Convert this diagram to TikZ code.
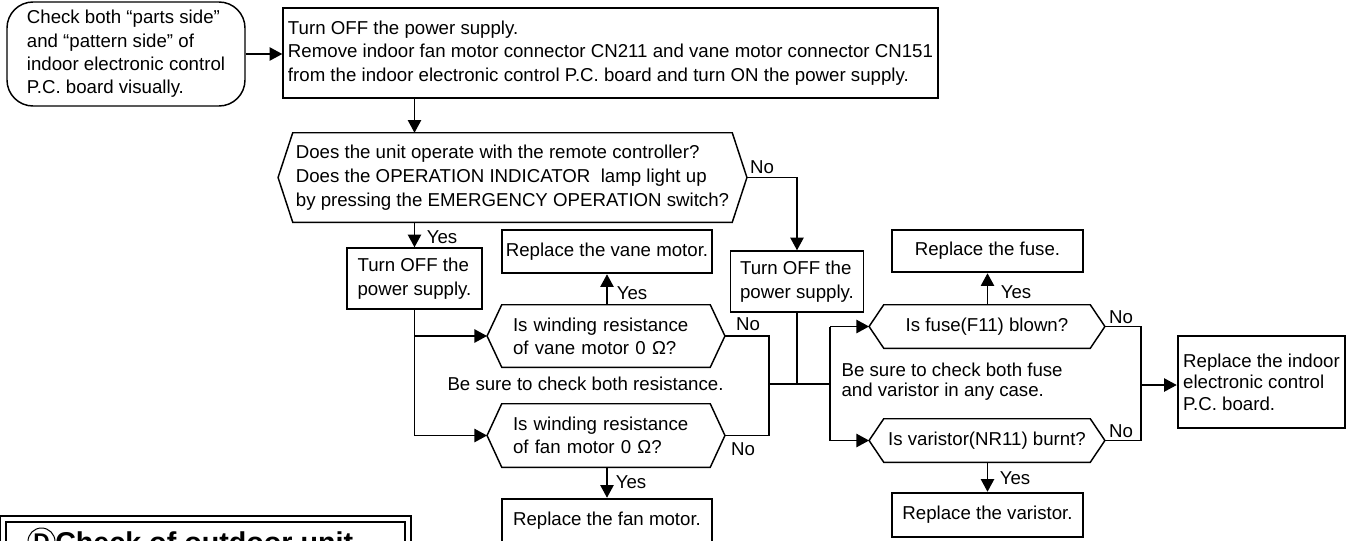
\documentclass[tikz,border=0pt]{standalone}
\usepackage{fontspec}
\setmainfont{Liberation Sans}
\usetikzlibrary{arrows.meta,calc}
\newcommand{\hexout}[1]{\draw[ln] (#1.north west) -- (#1.north east) -- ([xshift=11pt]#1.east) -- (#1.south east) -- (#1.south west) -- ([xshift=-11pt]#1.west) -- cycle;}
\begin{document}
\begin{tikzpicture}[x=0.75pt,y=-0.75pt,
  every node/.style={font=\fontsize{14}{17.5}\selectfont, inner sep=1pt},
  ln/.style={line width=1.1pt, line join=miter},
  box/.style={draw, line width=1.1pt, align=left, inner sep=1pt},
  tbox/.style={draw, line width=1.9pt, align=left, inner sep=1pt},
  hexn/.style={align=left, inner sep=1pt},
  arr/.style={ln, -{Triangle[length=9.5pt,width=10pt]}},
  lab/.style={inner sep=0pt},
]
\useasboundingbox (0,0) rectangle (1350,540);
\clip (0,0) rectangle (1350,540);
\fill[white] (0,0) rectangle (1350,540);

% start and main boxes
\node[box, rounded corners=19.5pt, minimum width=178.5pt, minimum height=78pt] (S) at (126,54)
  {Check both “parts side”\\and “pattern side” of\\indoor electronic control\\P.C. board visually.};
\node[box, minimum width=491.25pt, minimum height=67.5pt] (M) at (610.5,53)
  {Turn OFF the power supply.\\Remove indoor fan motor connector CN211 and vane motor connector CN151\\from the indoor electronic control P.C. board and turn ON the power supply.};

% big decision
\node[hexn, font=\fontsize{14}{18}\selectfont, minimum width=329.25pt, minimum height=66.75pt] (D1) at (512.5,177.5)
  {Does the unit operate with the remote controller?\\Does the OPERATION INDICATOR~ lamp light up\\by pressing the EMERGENCY OPERATION switch?};
\hexout{D1}

% left branch
\node[box, minimum width=101.25pt, minimum height=45.75pt] (A) at (414.5,278.5) {Turn OFF the\\power supply.};
\node[tbox, minimum width=157.5pt, minimum height=32.25pt] (RV) at (607,251.5) {Replace the vane motor.};
\node[hexn, text width=139.5pt, minimum width=156pt, minimum height=46.5pt] (V) at (606,336)
  {Is winding resistance\\of vane motor 0 Ω?};
\hexout{V}
\node[hexn, text width=139.5pt, minimum width=156pt, minimum height=47.25pt] (F) at (606,435.5)
  {Is winding resistance\\of fan motor 0 Ω?};
\hexout{F}
\node[tbox, minimum width=157.5pt, minimum height=32.25pt] (RF) at (607,520.5) {Replace the fan motor.};
\node (N1) at (585.5,384) {Be sure to check both resistance.};

% right branch
\node[box, minimum width=99.75pt, minimum height=45.75pt] (B) at (797,281.5) {Turn OFF the\\power supply.};
\node[hexn, minimum width=154.5pt, minimum height=32.25pt] (FU) at (987,326.5) {Is fuse(F11) blown?};
\hexout{FU}
\node[hexn, minimum width=154.5pt, minimum height=32.25pt] (VA) at (987,440.5) {Is varistor(NR11) burnt?};
\hexout{VA}
\node[tbox, minimum width=143.25pt, minimum height=31.5pt] (RFU) at (987.5,251) {Replace the fuse.};
\node[tbox, minimum width=143.25pt, minimum height=33pt] (RVA) at (987.5,515) {Replace the varistor.};
\node[align=left, anchor=west, font=\fontsize{14}{15}\selectfont] (N2) at (840,382)
  {Be sure to check both fuse\\and varistor in any case.};
\node[tbox, minimum width=125.25pt, minimum height=69pt, font=\fontsize{14}{16}\selectfont] (IN) at (1261.5,382)
  {Replace the indoor\\electronic control\\P.C. board.};

% coordinates
\coordinate (D1r) at ([xshift=11pt]D1.east);
\coordinate (Vl) at ([xshift=-11pt]V.west);
\coordinate (Vr) at ([xshift=11pt]V.east);
\coordinate (Fl) at ([xshift=-11pt]F.west);
\coordinate (Fr) at ([xshift=11pt]F.east);
\coordinate (FUl) at ([xshift=-11pt]FU.west);
\coordinate (FUr) at ([xshift=11pt]FU.east);
\coordinate (VAl) at ([xshift=-11pt]VA.west);
\coordinate (VAr) at ([xshift=11pt]VA.east);
\coordinate (jL) at (769,384);
\coordinate (jR) at (830,384);
\coordinate (jI) at (1141,385);

% connectors
\draw[arr] (S.east) -- (S.east -| M.west);
\draw[arr] (A.north |- M.south) -- (A.north |- D1.north);
\draw[arr] (A.north |- D1.south) -- (A.north);
\draw[arr] (D1r) -| (B.north);
\draw[ln] (A.south) -- (A.south |- Fl);
\draw[arr] (A.south |- Vl) -- (Vl);
\draw[arr] (A.south |- Fl) -- (Fl);
\draw[arr] (RV.south |- V.north) -- (RV.south);
\draw[arr] (RF.north |- F.south) -- (RF.north);
\draw[ln] (Vr) -- (Vr -| jL) -- (Fr -| jL) -- (Fr);
\draw[ln] (jL) -- (jR);
\draw[ln] (B.south) -- (B.south |- jL);
\draw[ln] (FUl -| jR) -- (VAl -| jR);
\draw[arr] (FUl -| jR) -- (FUl);
\draw[arr] (VAl -| jR) -- (VAl);
\draw[arr] (RFU.south |- FU.north) -- (RFU.south);
\draw[arr] (RVA.north |- VA.south) -- (RVA.north);
\draw[ln] (FUr) -- (FUr -| jI) -- (VAr -| jI) -- (VAr);
\draw[arr] (jI) -- (jI -| IN.west);

% labels
\node[lab] (yD1) at (442,237) {Yes};
\node[lab] (nD1) at (762,167) {No};
\node[lab] (yV) at (632,293) {Yes};
\node[lab] (nV) at (748,324) {No};
\node[lab] (nF) at (743,449) {No};
\node[lab] (yF) at (631,482) {Yes};
\node[lab] (yFU) at (1016,292) {Yes};
\node[lab] (nFU) at (1121,317) {No};
\node[lab] (nVA) at (1121,431) {No};
\node[lab] (yVA) at (1015,478) {Yes};

% bottom-left heading box (cut by the page edge)
\node[draw, double, double distance=2.75pt, line width=1.5pt, minimum width=303.5pt, minimum height=60pt, inner sep=0pt] (OB) at (205.4,558.75) {};
\node[draw, circle, line width=0.75pt, minimum size=20.25pt, inner sep=0pt, font=\bfseries\fontsize{17}{17}\selectfont] (OD) at (41.5,541.5) {D};
\node[anchor=base west, inner sep=0pt, font=\bfseries\fontsize{21.5}{22}\selectfont] (OT) at (55,552) {Check of outdoor unit};
\end{tikzpicture}
\end{document}
